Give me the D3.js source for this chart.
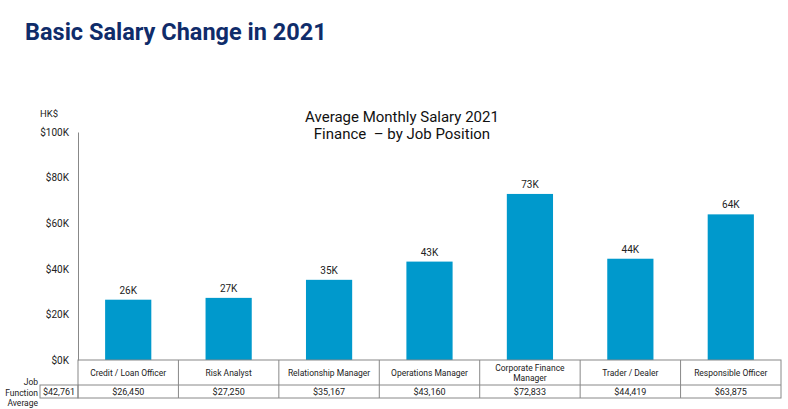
<!DOCTYPE html>
<html><head><meta charset="utf-8">
<script src="https://cdn.jsdelivr.net/npm/d3@7"></script>
<style>body{margin:0;background:#fff;}svg{display:block;}text{font-family:Roboto,"Noto Sans",sans-serif;}</style>
</head><body>
<svg id="c" width="788" height="409"></svg>
<script>
const categories = ["Credit / Loan Officer","Risk Analyst","Relationship Manager","Operations Manager","Corporate Finance\nManager","Trader / Dealer","Responsible Officer"];
const salaries = [26450, 27250, 35167, 43160, 72833, 44419, 63875];
const yTicks = [0, 20000, 40000, 60000, 80000, 100000];
const jobFunctionAverage = 42761;

(function () {
const svg = d3.select("#c");
const pLeft = 78, pRight = 781, pTop = 132, pBottom = 360;
const x = d3.scaleBand().domain(categories).range([pLeft, pRight]).paddingInner(0.54).paddingOuter(0.27);
const xc = d3.scaleBand().domain(categories).range([pLeft, pRight]);
const y = d3.scaleLinear().domain([0, 100000]).range([pBottom, pTop]);

svg.append("text").attr("x", 25).attr("y", 40).attr("font-size", 23.5).attr("font-weight", 700)
  .attr("fill", "#0f2c6a").text("Basic Salary Change in 2021");

const t = svg.append("text").attr("text-anchor", "middle").attr("font-size", 15).attr("fill", "#111");
t.append("tspan").attr("x", 402).attr("y", 121.5).text("Average Monthly Salary 2021");
t.append("tspan").attr("x", 402).attr("y", 138.5).attr("xml:space","preserve").text("Finance  \u2013 by Job Position");

svg.append("text").attr("x", 40).attr("y", 117).attr("font-size", 9.5).attr("fill", "#222").text("HK$");

const fmtK = d => "$" + d / 1000 + "K";
const yAxis = svg.append("g").attr("transform", `translate(${pLeft},0)`)
  .call(d3.axisLeft(y).tickValues(yTicks).tickFormat(fmtK).tickSize(0).tickPadding(9));
yAxis.select(".domain").attr("stroke", "#888");
yAxis.selectAll("text").attr("font-size", 10).attr("fill", "#222").attr("font-family", "Roboto, sans-serif");

svg.selectAll("rect.bar").data(salaries).join("rect").attr("class", "bar")
  .attr("x", (d, i) => x(categories[i])).attr("width", x.bandwidth())
  .attr("y", d => y(d)).attr("height", d => pBottom - y(d)).attr("fill", "#0099cc");

svg.selectAll("text.lab").data(salaries).join("text").attr("class", "lab")
  .attr("x", (d, i) => x(categories[i]) + x.bandwidth() / 2).attr("y", d => y(d) - 6)
  .attr("text-anchor", "middle").attr("font-size", 10).attr("fill", "#222")
  .text(d => Math.round(d / 1000) + "K");

// table
const row1Top = 360, row1Bot = 385, row2Bot = 398;
const g = svg.append("g").attr("stroke", "#888").attr("fill", "none").attr("stroke-width", 1);
g.append("rect").attr("x", pLeft).attr("y", row1Top).attr("width", pRight - pLeft).attr("height", row2Bot - row1Top);
g.append("line").attr("x1", pLeft).attr("x2", pRight).attr("y1", row1Bot).attr("y2", row1Bot);
categories.slice(1).forEach(c => {
  g.append("line").attr("x1", xc(c)).attr("x2", xc(c)).attr("y1", row1Top).attr("y2", row2Bot);
});
g.append("rect").attr("x", 40).attr("y", row1Bot).attr("width", pLeft - 40).attr("height", row2Bot - row1Bot);

categories.forEach((c, i) => {
  const lines = c.split("\n");
  const cx = xc(c) + xc.bandwidth() / 2;
  const tt = svg.append("text").attr("text-anchor", "middle").attr("font-size", 8.5).attr("fill", "#222");
  const mid = (row1Top + row1Bot) / 2 + 3;
  lines.forEach((l, j) => {
    tt.append("tspan").attr("x", cx).attr("y", mid + (j - (lines.length - 1) / 2) * 10).text(l);
  });
  svg.append("text").attr("x", cx).attr("y", row2Bot - 3).attr("text-anchor", "middle")
    .attr("font-size", 9).attr("fill", "#222").text("$" + d3.format(",")(salaries[i]));
});
svg.append("text").attr("x", 59).attr("y", row2Bot - 3).attr("text-anchor", "middle")
  .attr("font-size", 9).attr("fill", "#222").text("$" + d3.format(",")(jobFunctionAverage));

const jf = svg.append("text").attr("text-anchor", "end").attr("font-size", 8.5).attr("fill", "#222");
["Job", "Function", "Average"].forEach((s, j) => jf.append("tspan").attr("x", 38).attr("y", 385 + j * 10.5).text(s));
})();
</script>
</body></html>
